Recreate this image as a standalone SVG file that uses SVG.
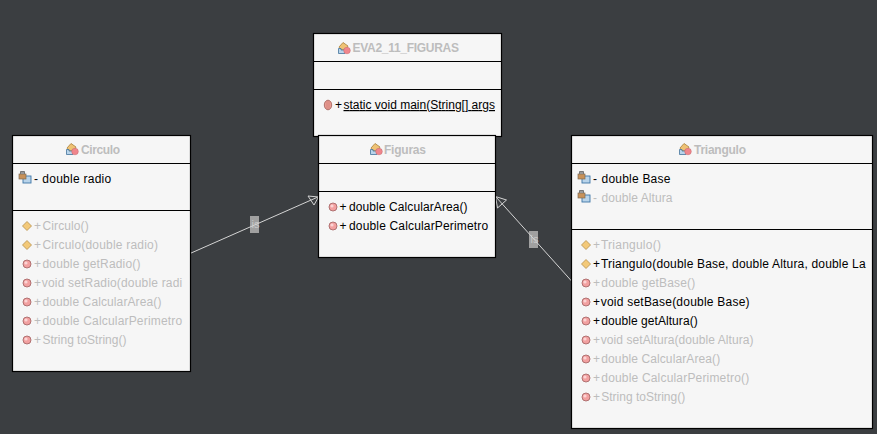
<svg xmlns="http://www.w3.org/2000/svg" width="877" height="434" viewBox="0 0 877 434">
<style>
.box{fill:#f6f6f6;stroke:#000;stroke-width:1.200}
.sep{stroke:#000;stroke-width:1}
text{font-family:"Liberation Sans",Arial,sans-serif;font-size:12px;fill:#000;letter-spacing:.1px}
.t{font-weight:bold;fill:#bdbdbd;letter-spacing:0}
.d{fill:#bdbdbd}
.e{fill:none;stroke:#d4d4d4;stroke-width:1}
.l{fill:#a0a0a0}
.lt{fill:#c8c8c8;font-size:11px}
</style>
<defs>
<g id="ci"><path d="M-5-1 L-1-5.500 L4-2 L2 2 L-3 2Z" fill="#efc274" stroke="#a8803a" stroke-width=".8"/><path d="M-5.500 0.500 L-3 0.500 V2 H1 V5.500 H-5.500Z" fill="#b9d4ea" stroke="#44739c" stroke-width=".8"/><circle cx="3" cy="2.500" r="3.300" fill="#f0868c" stroke="#c4686e" stroke-width=".5"/></g>
<g id="m"><circle r="4" fill="#f2a0a0" stroke="#a86a6a" stroke-width=".9"/><circle cx="-1" cy="-1" r="1.600" fill="#fbd4d4"/></g>
<g id="sm"><ellipse rx="3.700" ry="4.800" fill="#e89a92" stroke="#a86860" stroke-width=".9"/><path d="M-1-4V4M1-4V4" stroke="#c87870" stroke-width=".6"/></g>
<path id="c" d="M0-4.500 L4.500 0 L0 4.500 L-4.500 0Z" fill="#f3c979" stroke="#b58f4b" stroke-width=".8"/>
<g id="f"><rect x="-2" y="-1" width="8" height="7" fill="#b9d4ea" stroke="#3f76a6" stroke-width=".9"/><rect x="-6" y="-3" width="7" height="5" fill="#c8925a" stroke="#7c6a55" stroke-width=".7"/><path d="M-4.500-3V-5.500H-.5V-3" fill="#999" stroke="#777" stroke-width="1"/></g>
</defs>
<rect width="877" height="434" fill="#3b3e41"/>
<g id="connectors">
<rect class="l" x="250" y="216" width="9" height="17"/><text class="lt" x="251.500" y="228">is</text>
<rect class="l" x="529" y="231" width="9" height="17"/><text class="lt" x="530.500" y="243">is</text>
<path class="e" d="M190 253.500 L318 197"/><path class="e" d="M318.500 197 L308 196 L314 205Z"/>
<path class="e" d="M572 281.500 L496 197"/><path class="e" d="M495.500 196.500 L497.500 208 L506.500 200Z"/>
</g>
<g id="EVA2_11_FIGURAS">
<rect class="box" x="313.500" y="33.500" width="188" height="103"/>
<path class="sep" d="M314 61.500H501M314 89.500H501"/>
<use href="#ci" x="344" y="48"/>
<text class="t" x="352.500" y="52" textLength="106.500">EVA2_11_FIGURAS</text>
<use href="#sm" x="328" y="105"/>
<text x="335" y="109">+</text><text x="343.500" y="109" text-decoration="underline" textLength="151.500">static void main(String[] args</text>
</g>
<g id="Figuras">
<rect class="box" x="318.500" y="135.500" width="177" height="122"/>
<path class="sep" d="M319 163.500H495M319 191.500H495"/>
<use href="#ci" x="376" y="149"/>
<text class="t" x="384" y="154" textLength="42">Figuras</text>
<use href="#m" x="333" y="207"/><text x="339.500" y="211">+</text><text x="349" y="211" textLength="118.700">double CalcularArea()</text>
<use href="#m" x="333" y="226"/><text x="339.500" y="230">+</text><text x="349" y="230" textLength="139.300">double CalcularPerimetro</text>
</g>
<g id="Circulo">
<rect class="box" x="12.500" y="135.500" width="178" height="236"/>
<path class="sep" d="M13 163.500H190M13 210.500H190"/>
<use href="#ci" x="72" y="149"/>
<text class="t" x="81" y="154" textLength="39">Circulo</text>
<use href="#f" x="25" y="177"/><text x="34" y="183">-</text><text x="42.300" y="183" textLength="69">double radio</text>
<use href="#c" x="27" y="226"/><text class="d" x="34" y="230">+</text><text class="d" x="42.500" y="230">Circulo()</text>
<use href="#c" x="27" y="245"/><text class="d" x="34" y="249">+</text><text class="d" x="42.500" y="249" textLength="115.500">Circulo(double radio)</text>
<use href="#m" x="27" y="264"/><text class="d" x="34" y="268">+</text><text class="d" x="42.500" y="268" textLength="98">double getRadio()</text>
<use href="#m" x="27" y="283"/><text class="d" x="34" y="287">+</text><text class="d" x="41.800" y="287" textLength="140.500">void setRadio(double radi</text>
<use href="#m" x="27" y="302"/><text class="d" x="34" y="306">+</text><text class="d" x="42.500" y="306" textLength="119">double CalcularArea()</text>
<use href="#m" x="27" y="321"/><text class="d" x="34" y="325">+</text><text class="d" x="42.500" y="325" textLength="139.800">double CalcularPerimetro</text>
<use href="#m" x="27" y="340"/><text class="d" x="34" y="344">+</text><text class="d" x="42.500" y="344" textLength="84">String toString()</text>
</g>
<g id="Triangulo">
<rect class="box" x="571.500" y="135.500" width="301" height="293"/>
<path class="sep" d="M572 163.500H872M572 229.500H872"/>
<use href="#ci" x="685" y="149"/>
<text class="t" x="694" y="154" textLength="52">Triangulo</text>
<use href="#f" x="584" y="177"/><text x="593" y="183">-</text><text x="601.500" y="183" textLength="69">double Base</text>
<use href="#f" x="584" y="196"/><text class="d" x="593" y="202">-</text><text class="d" x="601.500" y="202" textLength="71">double Altura</text>
<use href="#c" x="586" y="245"/><text class="d" x="593" y="249">+</text><text class="d" x="601" y="249" textLength="60">Triangulo()</text>
<use href="#c" x="586" y="264"/><text x="593" y="268">+</text><text x="601" y="268" textLength="264.700">Triangulo(double Base, double Altura, double La</text>
<use href="#m" x="586" y="283"/><text class="d" x="593" y="287">+</text><text class="d" x="601.300" y="287" textLength="94">double getBase()</text>
<use href="#m" x="586" y="302"/><text x="593" y="306">+</text><text x="600.700" y="306" textLength="149">void setBase(double Base)</text>
<use href="#m" x="586" y="321"/><text x="593" y="325">+</text><text x="601.300" y="325" textLength="96.500">double getAltura()</text>
<use href="#m" x="586" y="340"/><text class="d" x="593" y="344">+</text><text class="d" x="600.700" y="344" textLength="153">void setAltura(double Altura)</text>
<use href="#m" x="586" y="359"/><text class="d" x="593" y="363">+</text><text class="d" x="601.300" y="363" textLength="119">double CalcularArea()</text>
<use href="#m" x="586" y="378"/><text class="d" x="593" y="382">+</text><text class="d" x="601.300" y="382" textLength="148">double CalcularPerimetro()</text>
<use href="#m" x="586" y="397"/><text class="d" x="593" y="401">+</text><text class="d" x="601.300" y="401" textLength="84">String toString()</text>
</g>
</svg>
